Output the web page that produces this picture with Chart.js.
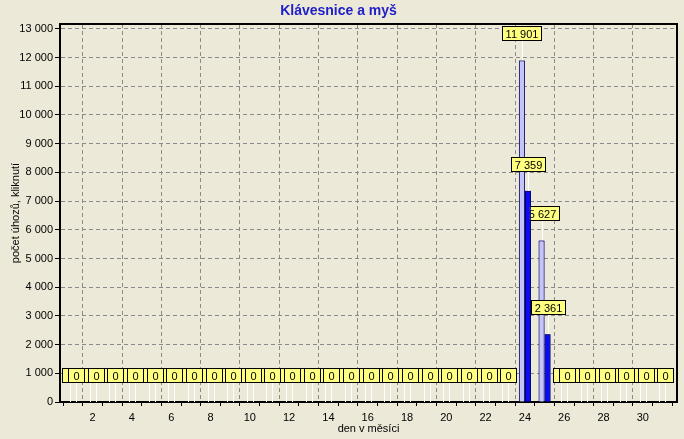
<!DOCTYPE html>
<html>
<head>
<meta charset="utf-8">
<script src="https://cdn.jsdelivr.net/npm/chart.js@4.4.1/dist/chart.umd.min.js"></script>
<style>
  body { margin: 0; background: #ECE9D8; }
  canvas { display: block; }
</style>
</head>
<body>
<canvas id="chart" width="684" height="439"></canvas>
<script>
// data
const days = [1, 2, 3, 4, 5, 6, 7, 8, 9, 10, 11, 12, 13, 14, 15, 16,
  17, 18, 19, 20, 21, 22, 23, 24, 25, 26, 27, 28, 29, 30, 31];
const keyboardHits = [0, 0, 0, 0, 0, 0, 0, 0, 0, 0, 0, 0, 0, 0, 0, 0,
  0, 0, 0, 0, 0, 0, 0, 11901, 5627, 0, 0, 0, 0, 0, 0];
const mouseClicks = [0, 0, 0, 0, 0, 0, 0, 0, 0, 0, 0, 0, 0, 0, 0, 0,
  0, 0, 0, 0, 0, 0, 0, 7359, 2361, 0, 0, 0, 0, 0, 0];
const yTickValues = [0, 1000, 2000, 3000, 4000, 5000, 6000, 7000, 8000, 9000,
  10000, 11000, 12000, 13000];
const yMax = 13170;
const xMin = 0.34;
const xMax = 31.74;

const FONT = "'Liberation Sans', Arial, sans-serif";

function formatNumber(v) {
  return String(v).replace(/\B(?=(\d{3})+(?!\d))/g, " ");
}

function toPoints(values) {
  return values.map((v, i) => ({ x: days[i], y: v }));
}

// yellow value boxes, drawn after each dataset's bars
const valueLabels = {
  id: "valueLabels",
  afterDatasetsDraw(chart) {
    const ctx = chart.ctx;
    ctx.save();
    ctx.font = "11px " + FONT;
    chart.data.datasets.forEach((ds, i) => {
      const meta = chart.getDatasetMeta(i);
      meta.data.forEach((bar) => bar.draw(ctx));
      meta.data.forEach((bar, j) => {
        const text = formatNumber(ds.data[j].y);
        const w = Math.max(17, Math.round(ctx.measureText(text).width + 7));
        const h = 15;
        const x = Math.round(bar.x);
        const bottom = Math.round(bar.y) - 19;
        const left = Math.round(x - w / 2);

        ctx.strokeStyle = "#ffffff";
        ctx.lineWidth = 1;
        ctx.beginPath();
        ctx.moveTo(x + 0.5, bottom);
        ctx.lineTo(x + 0.5, Math.round(bar.y));
        ctx.stroke();

        ctx.fillStyle = "#FFFF80";
        ctx.fillRect(left, bottom - h, w, h);
        ctx.strokeStyle = "#000000";
        ctx.strokeRect(left + 0.5, bottom - h + 0.5, w - 1, h - 1);

        ctx.fillStyle = "#000000";
        ctx.textAlign = "center";
        ctx.textBaseline = "middle";
        ctx.fillText(text, left + w / 2, bottom - h / 2 + 1);
      });
    });
    ctx.restore();
  },
  afterDraw(chart) {
    const a = chart.chartArea;
    const ctx = chart.ctx;
    ctx.save();
    ctx.strokeStyle = "#000000";
    ctx.lineWidth = 2;
    ctx.beginPath();
    ctx.moveTo(a.left, a.top);
    ctx.lineTo(a.right, a.top);
    ctx.lineTo(a.right, a.bottom);
    ctx.stroke();
    ctx.restore();
  },
};

const bg = {
  id: "bg",
  beforeDraw(chart) {
    const ctx = chart.ctx;
    ctx.save();
    ctx.fillStyle = "#ECE9D8";
    ctx.fillRect(0, 0, chart.width, chart.height);
    ctx.restore();
  },
};

const ctx = document.getElementById("chart").getContext("2d");
new Chart(ctx, {
  type: "bar",
  data: {
    datasets: [
      {
        label: "klávesnice",
        data: toPoints(keyboardHits),
        backgroundColor: "#C4C4F6",
        borderColor: "#20207A",
        borderWidth: 1,
        borderSkipped: "bottom",
      },
      {
        label: "myš",
        data: toPoints(mouseClicks),
        backgroundColor: "#0A0AF5",
        borderColor: "#000060",
        borderWidth: 1,
        borderSkipped: "bottom",
      },
    ],
  },
  options: {
    responsive: false,
    animation: false,
    layout: { padding: { top: 0, right: 7, bottom: 0, left: 0 } },
    datasets: {
      bar: { categoryPercentage: 0.61, barPercentage: 1.0 },
    },
    plugins: {
      legend: { display: false },
      tooltip: { enabled: false },
      title: {
        display: true,
        text: "Klávesnice a myš",
        color: "#2020C8",
        font: { family: FONT, size: 14, weight: "bold" },
        padding: { top: 3, bottom: 4.2 },
      },
    },
    scales: {
      x: {
        type: "linear",
        min: xMin,
        max: xMax,
        offset: false,
        afterBuildTicks: (scale) => {
          scale.ticks = days.map((d) => ({ value: d }));
        },
        grid: {
          color: (c) => (c.tick && c.tick.value % 2 === 0 ? "#8A8A8A" : "rgba(0,0,0,0)"),
          tickColor: "#000000",
          tickLength: 4,
          tickBorderDash: [],
        },
        border: { display: true, color: "#000000", width: 2, dash: [4, 3] },
        ticks: {
          autoSkip: false,
          maxRotation: 0,
          padding: 5,
          color: "#000000",
          font: { family: FONT, size: 11 },
          callback: (value) => (value % 2 === 0 ? String(value) : ""),
        },
        title: {
          display: true,
          text: "den v měsíci",
          color: "#000000",
          font: { family: FONT, size: 11 },
          padding: { top: 0, bottom: 3.4 },
        },
        afterFit: (scale) => { scale.height = 37; },
      },
      y: {
        min: 0,
        max: yMax,
        afterBuildTicks: (scale) => {
          scale.ticks = yTickValues.map((v) => ({ value: v }));
        },
        grid: {
          color: "#8A8A8A",
          tickColor: "#000000",
          tickLength: 5,
          tickBorderDash: [],
        },
        border: { display: true, color: "#000000", width: 2, dash: [4, 3] },
        ticks: {
          padding: 2,
          color: "#000000",
          font: { family: FONT, size: 11 },
          callback: (v) => formatNumber(v),
        },
        title: {
          display: true,
          text: "počet úhozů, kliknutí",
          color: "#000000",
          font: { family: FONT, size: 11 },
          padding: { top: 9, bottom: 0 },
        },
        afterFit: (scale) => { scale.width = 60; },
      },
    },
  },
  plugins: [bg, valueLabels],
});
</script>
</body>
</html>
